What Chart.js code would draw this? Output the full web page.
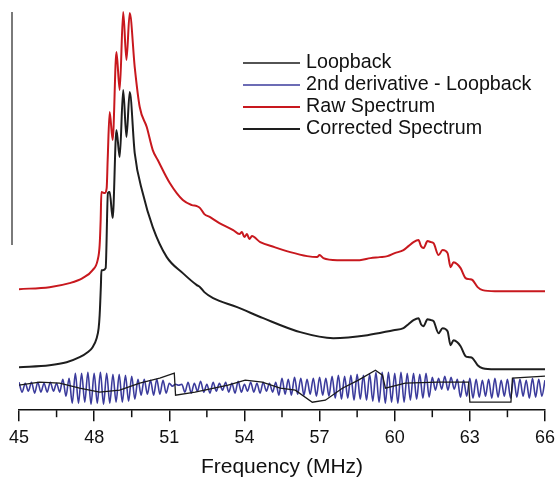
<!DOCTYPE html>
<html>
<head>
<meta charset="utf-8">
<script src="https://cdn.jsdelivr.net/npm/chart.js@4.4.0/dist/chart.umd.min.js"></script>
<style>
  html, body { margin: 0; padding: 0; background: #fff; }
</style>
</head>
<body>
<canvas id="spectre" width="555" height="480"></canvas>
<script>
"use strict";

// graduations de l'axe des fréquences (MHz)
const graduations = [45, 48, 51, 54, 57, 60, 63, 66];
const graduationsMineures = [46.5, 49.5, 52.5, 55.5, 58.5, 61.5, 64.5];

// spectre brut (unités arbitraires)
const brutFreq = [45.0, 46.22, 47.02, 47.54, 47.94, 48.14, 48.22, 48.26, 48.29, 48.42, 48.5, 48.54, 48.62, 48.74, 48.89, 49.02, 49.16, 49.29, 49.42,
  49.62, 49.82, 50.1, 50.34, 50.54, 51.02, 51.54, 51.9, 52.1, 52.23, 52.4, 52.63, 53.0, 53.55, 53.8, 53.9, 54.0, 54.1, 54.2, 54.3,
  54.63, 55.2, 55.83, 56.5, 56.9, 57.0, 57.15, 57.7, 58.23, 58.6, 59.03, 59.4, 59.71, 60.0, 60.35, 60.55, 60.75, 60.95, 61.05, 61.15,
  61.31, 61.45, 61.55, 61.75, 61.91, 62.11, 62.23, 62.35, 62.5, 62.63, 62.83, 62.97, 63.11, 63.31, 63.51, 64.0, 66.0];
const brutInt = [121, 123, 127, 132, 140, 150, 165, 190, 218, 217, 222, 250, 298, 270, 358, 320, 398, 350, 397,
  343, 303, 283, 260, 250, 227, 210, 205, 204, 202, 196, 193, 187, 180, 176, 178, 173, 176, 171, 174,
  168, 163, 158, 154, 153, 155, 152, 150, 150, 150, 152, 153, 154, 157, 160, 164, 168, 170, 164, 162,
  169, 168, 167, 155, 160, 157, 143, 148, 146, 142, 132, 131, 130, 123, 120, 119, 119];

// spectre corrigé
const corrFreq = [45.0, 46.22, 46.9, 47.42, 47.74, 47.94, 48.1, 48.18, 48.22, 48.27, 48.29, 48.35, 48.46, 48.55, 48.62, 48.74, 48.89, 49.02, 49.16, 49.29, 49.42, 49.62, 49.94,
  50.34, 50.9, 51.54, 52.1, 52.23, 52.4, 52.75, 53.71, 54.75, 56.23, 57.55, 58.91, 59.95, 60.35, 60.55, 60.75, 60.95, 61.05, 61.15, 61.31,
  61.45, 61.55, 61.75, 61.91, 62.11, 62.23, 62.35, 62.5, 62.63, 62.83, 62.97, 63.11, 63.31, 63.51, 64.0, 66.0];
const corrInt = [43, 45, 48, 53, 58, 63, 72, 82, 95, 125, 140, 140, 142, 217, 218, 192, 280, 253, 320, 273, 318, 257, 217,
  183, 153, 137, 125, 123, 118, 112, 103, 92, 78, 72, 75, 80, 82, 86, 90, 92, 86, 84, 91,
  90, 89, 77, 82, 79, 65, 70, 68, 64, 54, 53, 52, 45, 42, 41, 41];

// loopback
const loopFreq = [45.0, 45.82, 46.62, 47.42, 48.22, 49.02, 49.82, 50.62, 51.2, 51.25, 52.03, 53.35, 54.03, 54.71, 55.43,
  56.03, 56.71, 57.23, 57.91, 58.55, 59.23, 59.51, 59.63, 60.42, 61.71, 62.95, 63.0, 64.64, 64.7, 66.0];
const loopInt = [25, 28, 27, 22, 18, 20, 27, 32, 37, 15, 18, 25, 30, 28, 22,
  20, 8, 10, 22, 30, 40, 35, 22, 27, 28, 28, 8, 8, 32, 34];

// dérivée seconde du loopback, échantillonnée tous les 0.125 MHz à partir de 45
const deriveDebut = 45;
const derivePas = 0.125;
const deriveInt = [28, 18, 27, 19, 28, 17, 28, 18, 27, 18, 28, 19, 27, 18,
  31, 14, 32,
  7, 37, 7, 37, 8, 38, 6, 37, 7, 38, 6, 37, 7, 36, 8, 36, 8, 35, 9, 34, 11,
  31, 15, 31, 16, 30, 15, 31, 16, 30, 17,
  27, 24, 26, 25, 26,
  18, 28, 17, 27, 19, 29, 18, 26, 17, 28, 19, 27, 20, 28, 18, 27, 17, 29, 18, 26, 19, 28, 18, 27, 17, 28, 19, 27, 18, 28,
  15, 32, 16, 31, 15, 33, 16, 32, 15, 31, 16, 32, 14, 33, 15, 32, 14,
  34, 12, 35, 11, 34, 12, 35, 10, 36, 11, 35, 10, 36, 9,
  38, 8, 38, 7, 38, 8, 37, 7, 38, 8, 37,
  10, 37, 11, 36, 12, 37, 13,
  33, 20, 32, 21, 34, 20, 33, 21,
  31, 13, 30, 14, 32, 12, 31, 13, 30, 14, 31, 12, 32, 13, 30, 14, 31, 12, 32, 13, 31, 14, 30, 12, 32, 13, 31, 14, 30];

// barre d'échelle à gauche (unités de l'axe y)
const barreHaut = 398;
const barreBas = 165;

function points(freqs, vals) {
  return vals.map((v, i) => ({ x: freqs[i], y: v }));
}
const deriveFreq = deriveInt.map((v, i) => deriveDebut + i * derivePas);

const police = "'Liberation Sans', Arial, sans-serif";

const decor = {
  id: 'decor',
  afterDraw(chart) {
    const ctx = chart.ctx;
    const area = chart.chartArea;
    const x = chart.scales.x;
    const y = chart.scales.y;
    ctx.save();
    // petites graduations
    ctx.strokeStyle = '#111';
    ctx.lineWidth = 1.5;
    graduationsMineures.forEach(v => {
      const px = x.getPixelForValue(v);
      ctx.beginPath();
      ctx.moveTo(px, area.bottom);
      ctx.lineTo(px, area.bottom + 7);
      ctx.stroke();
    });
    // barre verticale
    ctx.strokeStyle = '#7a7a7a';
    ctx.lineWidth = 2;
    ctx.beginPath();
    ctx.moveTo(area.left - 7, y.getPixelForValue(barreHaut));
    ctx.lineTo(area.left - 7, y.getPixelForValue(barreBas));
    ctx.stroke();
    // légende
    ctx.font = "19.7px " + police;
    ctx.textBaseline = 'middle';
    ctx.fillStyle = '#111';
    chart.data.datasets.forEach((ds, i) => {
      const ly = 63 + i * 22;
      ctx.strokeStyle = ds.borderColor;
      ctx.lineWidth = ds.borderWidth;
      ctx.beginPath();
      ctx.moveTo(243, ly);
      ctx.lineTo(300, ly);
      ctx.stroke();
      ctx.fillText(ds.label, 306, ly);
    });
    ctx.restore();
  }
};

new Chart(document.getElementById('spectre'), {
  type: 'line',
  data: {
    datasets: [{
      label: 'Loopback',
      data: points(loopFreq, loopInt),
      borderColor: '#1a1a1a',
      borderWidth: 1.3
    }, {
      label: '2nd derivative - Loopback',
      data: points(deriveFreq, deriveInt),
      borderColor: '#3b3b9c',
      borderWidth: 1.6,
      cubicInterpolationMode: 'monotone'
    }, {
      label: 'Raw Spectrum',
      data: points(brutFreq, brutInt),
      borderColor: '#c8181e',
      borderWidth: 2,
      cubicInterpolationMode: 'monotone'
    }, {
      label: 'Corrected Spectrum',
      data: points(corrFreq, corrInt),
      borderColor: '#1e1e1e',
      borderWidth: 2,
      cubicInterpolationMode: 'monotone'
    }]
  },
  options: {
    responsive: false,
    animation: false,
    layout: { padding: { left: 19, right: 10, top: 10, bottom: 0 } },
    elements: { point: { radius: 0 }, line: { tension: 0 } },
    plugins: { legend: { display: false }, tooltip: { enabled: false } },
    scales: {
      x: {
        type: 'linear',
        min: 45,
        max: 66,
        afterBuildTicks: scale => { scale.ticks = graduations.map(v => ({ value: v })); },
        afterFit: scale => { scale.paddingLeft = 10; scale.paddingRight = 10; },
        grid: { drawOnChartArea: false, tickLength: 11, color: '#111', lineWidth: 1.5 },
        border: { display: true, color: '#111', width: 1.5 },
        ticks: { color: '#111', font: { size: 18, family: police }, padding: 6, maxRotation: 0 },
        title: { display: true, text: 'Frequency (MHz)', color: '#111', font: { size: 21, family: police }, padding: { top: 0, bottom: 0 } }
      },
      y: { display: false, min: 0, max: 400 }
    }
  },
  plugins: [decor]
});
</script>
</body>
</html>
